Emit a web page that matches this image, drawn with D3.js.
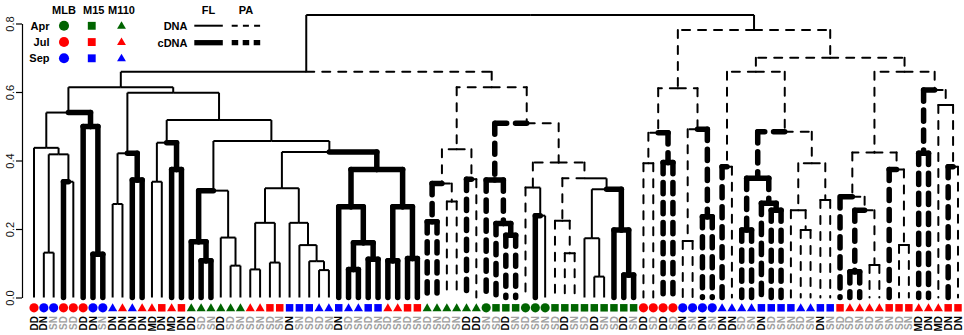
<!DOCTYPE html>
<html><head><meta charset="utf-8">
<script src="https://cdn.jsdelivr.net/npm/d3@7"></script>
<style>
body{margin:0;background:#fff}
svg{display:block}
text{font-family:"Liberation Sans",Arial,Helvetica,sans-serif}
</style>
</head><body>
<svg id="chart" width="964" height="335"></svg>
<script>
// ---------------- DATA ----------------
const leafLabels = ("DD DN SN SD SD DD DN SN DN DN DN DN MD DN MD DN DD SD SN DD " +
  "SD SN SD SN SD SN DN SN SD SD SN DN SD SN SD SN SD SN SD SN " +
  "SD SN SD SN DD DD SN SD DD SN SD SN SN SD DD SN SD DD SN SD " +
  "DD SN DD SD DD SD DN SN DN SN DN DN SD SN DN SD SN SN SD SN " +
  "DN SN SD SD SN SD SN SN SD SN MD DN MD DN DN").split(" ");
const leafSite = ("MLB MLB MLB MLB MLB MLB MLB MLB M110 M110 M110 M110 M110 M15 M110 M15 M110 M110 M110 M110 " +
  "M110 M110 M110 M110 M15 M15 M15 M15 M15 M110 M110 M15 M110 M110 M15 M15 M110 M110 M15 M15 " +
  "M110 M110 M110 M110 M110 M110 MLB M15 M15 M15 MLB MLB MLB M15 M15 M15 M15 M15 M15 M15 " +
  "M15 M15 MLB MLB MLB MLB MLB MLB MLB MLB M110 M110 M110 M110 M15 M15 M15 M15 M110 M110 " +
  "M15 M15 M15 M110 M110 M110 M110 M15 M15 M15 M110 M110 M110 M15 M15").split(" ");
const leafMonth = ("Jul Sep Sep Jul Jul Jul Sep Sep Sep Jul Sep Jul Jul Jul Jul Jul Apr Apr Apr Apr " +
  "Apr Apr Jul Jul Jul Jul Sep Sep Sep Sep Sep Sep Sep Sep Sep Sep Jul Jul Jul Jul " +
  "Apr Apr Apr Apr Apr Apr Apr Apr Apr Apr Apr Apr Apr Apr Apr Apr Apr Apr Apr Apr " +
  "Apr Apr Jul Jul Jul Jul Sep Sep Sep Sep Sep Sep Sep Sep Sep Sep Sep Sep Sep Sep " +
  "Sep Sep Jul Jul Jul Jul Jul Jul Jul Jul Jul Jul Jul Jul Jul").split(" ");
const leafFraction = ("FL FL FL FL FL FL FL FL FL FL FL FL FL FL FL FL FL FL FL FL " +
  "FL FL FL FL FL FL FL FL FL FL FL FL FL FL FL FL FL FL FL FL " +
  "PA PA PA PA PA PA PA PA PA PA PA FL FL PA PA PA FL FL FL FL " +
  "FL FL PA PA PA PA PA PA PA PA PA PA PA PA PA PA PA PA PA PA " +
  "PA PA PA PA PA PA PA PA PA PA PA PA PA PA PA").split(" ");
const leafNucleic = ("DNA DNA DNA cDNA DNA cDNA cDNA cDNA DNA DNA cDNA cDNA DNA DNA cDNA cDNA cDNA cDNA cDNA DNA " +
  "DNA DNA DNA DNA DNA DNA DNA DNA DNA DNA DNA cDNA cDNA cDNA cDNA cDNA cDNA cDNA cDNA cDNA " +
  "cDNA cDNA DNA DNA cDNA DNA cDNA cDNA cDNA cDNA DNA cDNA DNA DNA DNA DNA DNA DNA DNA cDNA " +
  "cDNA cDNA DNA DNA cDNA cDNA DNA DNA cDNA cDNA cDNA DNA cDNA cDNA cDNA cDNA cDNA DNA DNA DNA " +
  "DNA DNA cDNA cDNA cDNA DNA DNA cDNA DNA DNA cDNA cDNA DNA cDNA DNA").split(" ");

// dendrogram: [mergeHeight, left, right]; numbers are leaf indices (1-based)
const treeFL = [0.614,
  [0.540,
    [0.437, 1, [0.418, [0.131, 2, 3], [0.338, 4, 5]]],
    [0.499, 6, [0.126, 7, 8]]],
  [0.598,
    [0.421, [0.273, 9, 10], [0.343, 11, 12]],
    [0.518,
      [0.452, [0.338, 13, 14], [0.374, 15, 16]],
      [0.457,
        [0.312, [0.163, 17, [0.107, 18, 19]], [0.175, 20, [0.093, 21, 22]]],
        [0.425,
          [0.319,
            [0.218, [0.082, 23, 24], [0.102, 25, 26]],
            [0.218, 27, [0.153, 28, [0.106, 29, [0.080, 30, 31]]]]],
          [0.374,
            [0.265, 32, [0.160, [0.082, 33, 34], [0.112, 35, 36]]],
            [0.265, [0.107, 37, 38], [0.114, 39, 40]]]]]]]];
const treeApr = [0.614,
  [0.433, [0.333, [0.221, 41, 42], [0.280, 43, 44]], [0.345, 45, 46]],
  [0.509,
    [0.343, 47, [0.216, 48, [0.182, 49, 50]]],
    [0.394,
      [0.321, 51, [0.239, 52, 53]],
      [0.348,
        [0.224, 54, [0.129, 55, 56]],
        [0.316, [0.173, 57, [0.061, 58, 59]], [0.197, 60, [0.066, 61, 62]]]]]]];
const treePA = [0.781,
  [0.611,
    [0.481, [0.392, 63, 64], [0.394, 65, 66]],
    [0.491, [0.165, 67, 68], [0.236, 69, 70]]],
  [0.700,
    [0.659,
      [0.382, 71, 72],
      [0.484,
        [0.348, [0.197, 73, 74], [0.275, 75, [0.255, 76, 77]]],
        [0.392, [0.255, 78, [0.197, 79, 80]], [0.285, 81, 82]]]],
    [0.659,
      [0.423,
        [0.294, 83, [0.255, [0.075, 84, 85], [0.095, 86, 87]]],
        [0.374, 88, [0.153, 89, 90]]],
      [0.606, [0.421, 91, 92], [0.562, 93, [0.382, 94, 95]]]]]];
const tree = [0.825, [0.659, treeFL, treeApr], treePA];

const yTicks = [0, 0.2, 0.4, 0.6, 0.8];
const legendSites = ["MLB", "M15", "M110"];
const legendMonths = ["Apr", "Jul", "Sep"];
const legendFractions = ["FL", "PA"];
const legendNucleic = ["DNA", "cDNA"];

// ---------------- DRAW ----------------
const svg = d3.select("#chart");
const monthColor = d3.scaleOrdinal().domain(["Apr", "Jul", "Sep"]).range(["#006400", "#ff0000", "#0000ff"]);
const nLeaves = leafLabels.length;
const x = d3.scaleLinear().domain([1, nLeaves]).range([34, 958]);
const y = d3.scaleLinear().domain([0, 0.8]).range([297.5, 23.5]);

const root = d3.hierarchy(tree, d => Array.isArray(d) ? d.slice(1) : null);
root.eachAfter(n => {
  if (n.children) {
    n.h = n.data[0];
    n.px = d3.mean(n.children, c => c.px);
    const lv = n.leaves().map(l => l.data - 1);
    n.fl = d3.mean(lv, i => leafFraction[i] === "FL" ? 1 : 0);
    n.cdna = lv.every(i => leafNucleic[i] === "cDNA");
  } else {
    n.h = 0;
    n.px = x(n.data);
    n.fl = leafFraction[n.data - 1] === "FL" ? 1 : 0;
    n.cdna = leafNucleic[n.data - 1] === "cDNA";
  }
});

const THIN = 2, THICK = 5.5;
const gTree = svg.append("g");
function seg(x1, y1, x2, y2, dashed, thick) {
  gTree.append("line")
    .attr("x1", x1).attr("y1", y1).attr("x2", x2).attr("y2", y2)
    .attr("stroke", "#000")
    .attr("stroke-width", thick ? THICK : THIN)
    .attr("stroke-linecap", dashed || thick ? "round" : "butt")
    .attr("stroke-dasharray", dashed ? (thick ? "11.2,8.8" : "8,8") : null);
}
function drawEdges(n) {
  if (!n.children) return;
  n.children.forEach(c => {
    // mixed branches are drawn solid when mostly free-living; root branches solid
    const dashed = n.parent ? c.fl < 0.75 : false;
    const thick = c.cdna;
    seg(n.px, y(n.h), c.px, y(n.h), dashed, thick);
    seg(c.px, y(n.h), c.px, y(c.h), dashed, thick);
    drawEdges(c);
  });
}
drawEdges(root);

// axis
const axis = d3.axisLeft(y).tickValues(yTicks).tickFormat(d3.format(".1f")).tickSize(6).tickSizeOuter(0);
const gAxis = svg.append("g").attr("transform", "translate(22,0)").call(axis);
gAxis.select(".domain").attr("stroke", "#000").attr("stroke-width", 1.2);
gAxis.selectAll(".tick line").attr("stroke", "#000").attr("stroke-width", 1.2);
gAxis.selectAll(".tick text")
  .attr("x", null).attr("dy", null)
  .attr("transform", "translate(-8.5,0) rotate(-90)")
  .attr("text-anchor", "middle")
  .attr("font-size", "11px")
  .attr("fill", "#111")
  .style("font-family", "'Liberation Sans',Arial,sans-serif");

// leaf markers
const symType = {MLB: d3.symbolCircle, M15: d3.symbolSquare, M110: d3.symbolTriangle};
const symSize = {MLB: 66, M15: 56, M110: 36};
const leaves = root.leaves();
svg.append("g").selectAll("path").data(leaves).join("path")
  .attr("transform", d => `translate(${d.px},${leafSite[d.data - 1] === "M110" ? 308.5 : 307.8})`)
  .attr("d", d => d3.symbol(symType[leafSite[d.data - 1]], symSize[leafSite[d.data - 1]])())
  .attr("fill", d => monthColor(leafMonth[d.data - 1]));

// leaf labels
svg.append("g").selectAll("text").data(leaves).join("text")
  .attr("transform", d => `translate(${d.px},316) rotate(-90)`)
  .attr("text-anchor", "end")
  .attr("dy", "0.36em")
  .attr("font-size", "10px")
  .attr("font-weight", "bold")
  .attr("fill", d => leafLabels[d.data - 1][0] === "S" ? "#a0a0a0" : "#000")
  .text(d => leafLabels[d.data - 1]);

// legend: site/month
const gLeg = svg.append("g").attr("font-weight", "bold").attr("font-size", "11px");
const legX = d3.scalePoint().domain(legendSites).range([64, 121.5]);
const legY = d3.scalePoint().domain(legendMonths).range([25.8, 58.3]);
gLeg.selectAll("text.site").data(legendSites).join("text").attr("class", "site")
  .attr("x", d => legX(d) + (d === "M15" ? 1 : 0)).attr("y", 13.5).attr("text-anchor", "middle").text(d => d);
gLeg.selectAll("text.month").data(legendMonths).join("text").attr("class", "month")
  .attr("x", 49.5).attr("y", d => legY(d) + 3.8).attr("text-anchor", "end").text(d => d);
const legSym = {MLB: 80, M15: 62, M110: 34};
legendMonths.forEach(m => {
  legendSites.forEach(s => {
    gLeg.append("path")
      .attr("transform", `translate(${legX(s) - (s === "M15" ? 1 : 0)},${legY(m) + (s === "M110" ? 0.5 : 0)})`)
      .attr("d", d3.symbol(symType[s], legSym[s])())
      .attr("fill", monthColor(m));
  });
});

// legend: line styles
const fx = d3.scalePoint().domain(legendFractions).range([208.5, 246]);
const ny = d3.scalePoint().domain(legendNucleic).range([25.7, 42.7]);
gLeg.selectAll("text.frac").data(legendFractions).join("text").attr("class", "frac")
  .attr("x", d => fx(d)).attr("y", 13.5).attr("text-anchor", "middle").text(d => d);
gLeg.selectAll("text.nuc").data(legendNucleic).join("text").attr("class", "nuc")
  .attr("x", 187.5).attr("y", d => ny(d) + 3.8).attr("text-anchor", "end").text(d => d);
legendNucleic.forEach(nu => {
  legendFractions.forEach(fr => {
    const x0 = fr === "FL" ? 194.3 : 231.7;
    gLeg.append("line")
      .attr("x1", x0).attr("x2", x0 + 28.5)
      .attr("y1", ny(nu)).attr("y2", ny(nu))
      .attr("stroke", "#000")
      .attr("stroke-width", nu === "cDNA" ? 5.3 : 2)
      .attr("stroke-dasharray", fr === "PA" ? (nu === "cDNA" ? "6.5,4.5" : "6,5.2") : null);
  });
});
</script>
</body></html>
